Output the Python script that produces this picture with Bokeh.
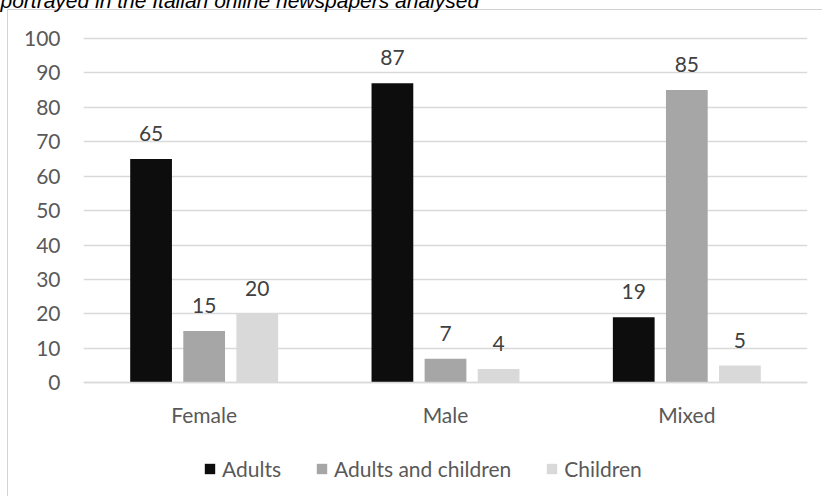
from bokeh.plotting import figure
from bokeh.models import (ColumnDataSource, FactorRange, Range1d, Legend, LegendItem,
                          LabelSet)
from bokeh.transform import dodge
from bokeh.core.properties import value
from bokeh.embed import file_html
from bokeh.resources import INLINE

# ---- data ----
categories = ["Female", "Male", "Mixed"]
series_names = ["Adults", "Adults and children", "Children"]
adults = [65, 87, 19]
adults_children = [15, 7, 85]
children = [20, 4, 5]
y_ticks = [0, 10, 20, 30, 40, 50, 60, 70, 80, 90, 100]
title_text = "portrayed in the Italian online newspapers analysed"

colors = ["#0d0d0d", "#a6a6a6", "#d9d9d9"]
FONT = "Lato"

# ---- layout (pixels) ----
W, H = 822, 496
TOP_PX, ZERO_PX = 37, 382          # pixel rows of the top tick and of zero
px_per_unit = (ZERO_PX - TOP_PX) / max(y_ticks)
y_start = -(H - ZERO_PX) / px_per_unit
y_end = max(y_ticks) + TOP_PX / px_per_unit

source = ColumnDataSource(dict(
    cat=categories,
    adults=adults, ac=adults_children, ch=children,
    adults_lbl=[str(v) for v in adults],
    ac_lbl=[str(v) for v in adults_children],
    ch_lbl=[str(v) for v in children],
))

border_css = {
    "background-color": "white",
    "background-image": "linear-gradient(#d3d3d3, #d3d3d3), linear-gradient(#d3d3d3, #d3d3d3)",
    "background-size": "1px 100%, 100% 1px",
    "background-position": "7px 9px, 7px 9px",
    "background-repeat": "no-repeat",
}

p = figure(x_range=FactorRange(*categories, range_padding=0),
           y_range=Range1d(y_start, y_end),
           width=W, height=H, margin=0,
           output_backend="svg", toolbar_location=None,
           min_border_left=83, min_border_right=15,
           min_border_top=0, min_border_bottom=0,
           styles=border_css)

# title (only its lower part is visible, as in the source image)
p.title.text = title_text
p.title.align = "left"
p.title.offset = -83
p.title.vertical_align = "top"
p.title.text_font = "Liberation Sans"
p.title.text_font_style = "italic"
p.title.text_font_size = "21px"
p.title.text_color = "#000000"
try:
    p.title.standoff = -24
except Exception:
    p.title.standoff = 0

offsets = [-0.22, 0.0, 0.22]
fields = ["adults", "ac", "ch"]
lbls = ["adults_lbl", "ac_lbl", "ch_lbl"]
renderers = []
for off, f, lb, c in zip(offsets, fields, lbls, colors):
    r = p.vbar(x=dodge("cat", off, range=p.x_range), top=f, width=0.173,
               source=source, fill_color=c, line_color=None)
    renderers.append(r)
    p.add_layout(LabelSet(x=dodge("cat", off, range=p.x_range), y=f, text=lb,
                          source=source, text_align="center",
                          text_baseline="alphabetic", y_offset=18,
                          text_font=value(FONT), text_font_size="21px",
                          text_color="#404040"))

legend = Legend(items=[LegendItem(label=n, renderers=[r]) for n, r in zip(series_names, renderers)],
                orientation="horizontal", location=(120, 15),
                padding=0, margin=0, spacing=34, label_standoff=6,
                glyph_width=13, glyph_height=13,
                border_line_color=None, background_fill_alpha=0,
                label_text_font=FONT, label_text_font_size="21px",
                label_text_color="#595959")
p.add_layout(legend)

p.yaxis.ticker = y_ticks
p.yaxis.axis_line_color = None
p.yaxis.major_tick_line_color = None
p.yaxis.minor_tick_line_color = None
p.yaxis.major_tick_out = 0
p.yaxis.major_tick_in = 0
p.yaxis.major_label_standoff = 23
p.yaxis.major_label_text_font = FONT
p.yaxis.major_label_text_font_size = "21px"
p.yaxis.major_label_text_color = "#595959"

p.xaxis.fixed_location = 0
p.xaxis.axis_line_color = "#d9d9d9"
p.xaxis.axis_line_width = 1.5
p.xaxis.major_tick_line_color = None
p.xaxis.minor_tick_line_color = None
p.xaxis.major_tick_out = 0
p.xaxis.major_tick_in = 0
p.xaxis.major_label_standoff = 19
p.xaxis.major_label_text_font = FONT
p.xaxis.major_label_text_font_size = "21px"
p.xaxis.major_label_text_color = "#595959"

p.xgrid.grid_line_color = None
p.ygrid.grid_line_color = "#d9d9d9"
p.ygrid.grid_line_width = 1.5
p.outline_line_color = None
p.background_fill_color = None
p.border_fill_color = None

open("out.html", "w").write(file_html(p, INLINE))
